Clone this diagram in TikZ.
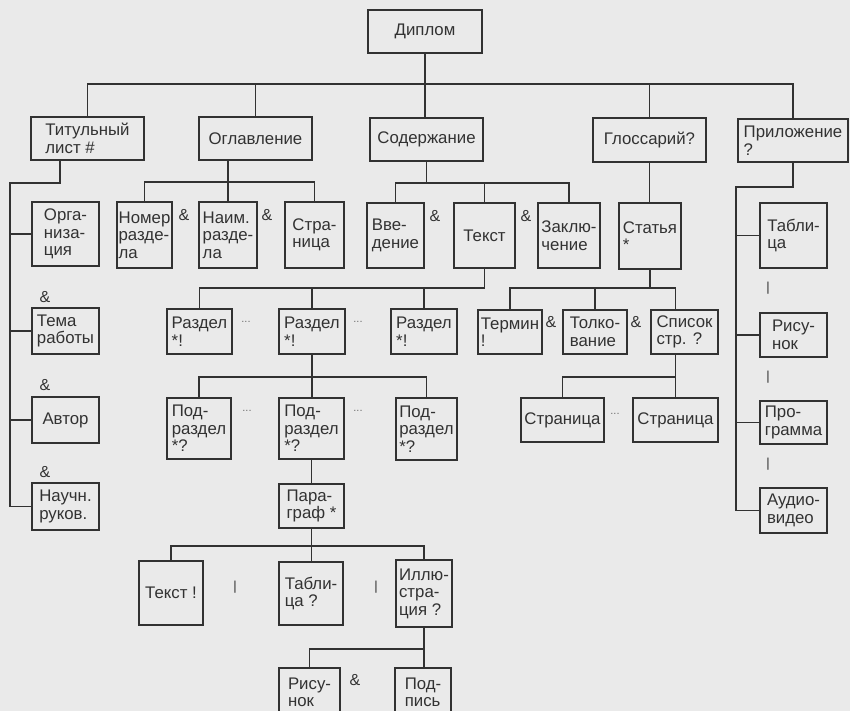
\documentclass[tikz,border=0pt]{standalone}
\usepackage{fontspec}
\setmainfont{Liberation Sans}
\definecolor{paper}{RGB}{234,234,234}
\definecolor{ink}{RGB}{50,50,50}
\newcommand\dbox[6]{%
  \node[box,minimum width={(#4-#2)*1pt},minimum height={(#5-#3)*1pt}]
    (#1) at ({(#2+#4)/2},{(#3+#5)/2}) {#6};}
\begin{document}
\begin{tikzpicture}[x=1pt,y=-1pt,
  box/.style={draw=ink,line width=1.5pt,inner sep=0pt,outer sep=0pt,
    align=left,text=ink,font=\fontsize{16.8}{17.5}\selectfont},
  conn/.style={draw=ink,line width=1.4pt},
  amp/.style={text=ink,inner sep=0pt,font=\fontsize{16}{17}\selectfont},
  dots/.style={text=ink!70,inner sep=0pt,font=\fontsize{11}{12}\selectfont},
  bar/.style={text=ink,inner sep=0pt,font=\fontsize{13}{14}\selectfont}]
\fill[paper] (0,0) rectangle (850,711);
\clip (0,0) rectangle (850,711);

% level 0 and 1
\dbox{dip}{368}{10}{482}{53}{Диплом}
\dbox{tit}{31}{117}{144}{160}{Титульный\\лист \#}
\dbox{ogl}{199}{117}{312}{160}{Оглавление}
\dbox{sod}{370}{118}{483}{161}{Содержание}
\dbox{glo}{593}{118}{706}{162}{Глоссарий?}
\dbox{pri}{738}{119}{848}{162}{Приложение\\?}

% title page
\dbox{org}{32}{202}{99}{266}{Орга-\\низа-\\ция}
\dbox{tem}{32}{308}{99}{354}{Тема\\работы}
\dbox{avt}{32}{397}{99}{443}{Автор}
\dbox{nau}{32}{483}{99}{530}{Научн.\\руков.}

% table of contents
\dbox{nom}{117}{202}{172}{268}{Номер\\разде-\\ла}
\dbox{nai}{199}{202}{257}{268}{Наим.\\разде-\\ла}
\dbox{str}{285}{202}{344}{268}{Стра-\\ница}

% contents
\dbox{vve}{367}{203}{424}{268}{Вве-\\дение}
\dbox{tek}{454}{203}{515}{268}{Текст}
\dbox{zak}{538}{203}{600}{268}{Заклю-\\чение}

% glossary
\dbox{sta}{619}{203}{681}{269}{Статья\\*}
\dbox{ter}{478}{310}{542}{354}{Термин\\!}
\dbox{tol}{563}{310}{627}{354}{Толко-\\вание}
\dbox{spi}{651}{310}{718}{354}{Список\\стр. ?}
\dbox{sp1}{521}{398}{604}{442}{Страница}
\dbox{sp2}{633}{398}{718}{442}{Страница}

% appendix
\dbox{tab}{760}{203}{827}{268}{Табли-\\ца}
\dbox{ris}{760}{313}{827}{357}{Рису-\\нок}
\dbox{pro}{760}{401}{827}{444}{Про-\\грамма}
\dbox{aud}{760}{488}{827}{533}{Аудио-\\видео}

% sections
\dbox{ra1}{167}{309}{232}{354}{Раздел\\*!}
\dbox{ra2}{279}{309}{345}{354}{Раздел\\*!}
\dbox{ra3}{391}{309}{457}{354}{Раздел\\*!}
\dbox{pd1}{167}{398}{231}{459}{Под-\\раздел\\*?}
\dbox{pd2}{279}{398}{344}{459}{Под-\\раздел\\*?}
\dbox{pd3}{396}{398}{457}{460}{Под-\\раздел\\*?}
\dbox{par}{279}{484}{344}{528}{Пара-\\граф *}
\dbox{txt}{139}{561}{203}{625}{Текст !}
\dbox{tbl}{279}{562}{343}{625}{Табли-\\ца ?}
\dbox{ill}{396}{560}{452}{627}{Иллю-\\стра-\\ция ?}
\dbox{ri2}{279}{668}{340}{717}{Рису-\\нок}
\dbox{pds}{395}{668}{451}{717}{Под-\\пись}

% bus levels
\coordinate (b0) at (0,84);
\coordinate (tj) at (60,183);
\coordinate (tl) at (10,183);
\coordinate (ob) at (0,182);
\coordinate (cb) at (0,183);
\coordinate (pb) at (0,187);
\coordinate (pl) at (736,0);
\coordinate (rb) at (0,288);
\coordinate (qb) at (0,377);
\coordinate (mb) at (0,546);
\coordinate (ib) at (0,649);

% top level
\draw[conn] (dip.south) -- (dip.south |- sod.north);
\draw[conn] (tit.north) |- (pri.north |- b0) -- (pri.north);
\draw[conn] (ogl.north) -- (ogl.north |- b0);
\draw[conn] (glo.north) -- (glo.north |- b0);

% title page branch
\draw[conn] (tj |- tit.south) -- (tj) -- (tl) |- (nau.west);
\draw[conn] (tl |- org.west) -- (org.west);
\draw[conn] (tl |- tem.west) -- (tem.west);
\draw[conn] (tl |- avt.west) -- (avt.west);

% table of contents branch
\draw[conn] (ogl.south -| nai.north) -- (nai.north);
\draw[conn] (nom.north) |- (str.north |- ob) -- (str.north);

% contents branch
\draw[conn] (sod.south) -- (sod.south |- cb);
\draw[conn] (vve.north) |- (zak.north |- cb) -- (zak.north);
\draw[conn] (tek.north) -- (tek.north |- cb);

% glossary branch
\draw[conn] (glo.south) -- (glo.south |- sta.north);
\draw[conn] (sta.south) -- (sta.south |- rb);
\draw[conn] (ter.north) |- (sp2.north |- rb) -- (spi.north -| sp2.north);
\draw[conn] (tol.north) -- (tol.north |- rb);
\draw[conn] (spi.south -| sp2.north) -- (sp2.north);
\draw[conn] (sp1.north) |- (sp2.north |- qb);

% appendix branch
\draw[conn] (pri.south) -- (pri.south |- pb) -- (pl |- pb) |- (aud.west);
\draw[conn] (pl |- tab.west) -- (tab.west);
\draw[conn] (pl |- ris.west) -- (ris.west);
\draw[conn] (pl |- pro.west) -- (pro.west);

% sections
\draw[conn] (tek.south) -- (tek.south |- rb) -- (ra1.north |- rb) -- (ra1.north);
\draw[conn] (ra2.north) -- (ra2.north |- rb);
\draw[conn] (ra3.north) -- (ra3.north |- rb);
\draw[conn] (ra2.south) -- (ra2.south |- pd2.north);
\draw[conn] (pd1.north) |- (pd3.north |- qb) -- (pd3.north);
\draw[conn] (pd2.south) -- (pd2.south |- par.north);
\draw[conn] (par.south) -- (par.south |- tbl.north);
\draw[conn] (txt.north) |- (ill.north |- mb) -- (ill.north);
\draw[conn] (ill.south) -- (ill.south |- pds.north);
\draw[conn] (ill.south |- ib) -| (ri2.north);

% operators
\node[amp] (a1) at (45,297) {\&};
\node[amp] (a2) at (45,385) {\&};
\node[amp] (a3) at (45,472) {\&};
\node[amp] (a4) at (184,215) {\&};
\node[amp] (a5) at (267,215) {\&};
\node[amp] (a6) at (435,216) {\&};
\node[amp] (a7) at (526,216) {\&};
\node[amp] (a8) at (551,322) {\&};
\node[amp] (a9) at (636,322) {\&};
\node[amp] (a10) at (355,680) {\&};

\node[dots] (d1) at (246,322) {...};
\node[dots] (d2) at (358,322) {...};
\node[dots] (d3) at (247,411) {...};
\node[dots] (d4) at (358,411) {...};
\node[dots] (d5) at (615,414) {...};

\node[bar] (o1) at (768,288) {|};
\node[bar] (o2) at (768,377) {|};
\node[bar] (o3) at (768,464) {|};
\node[bar] (o4) at (235,587) {|};
\node[bar] (o5) at (376,587) {|};
\end{tikzpicture}
\end{document}
